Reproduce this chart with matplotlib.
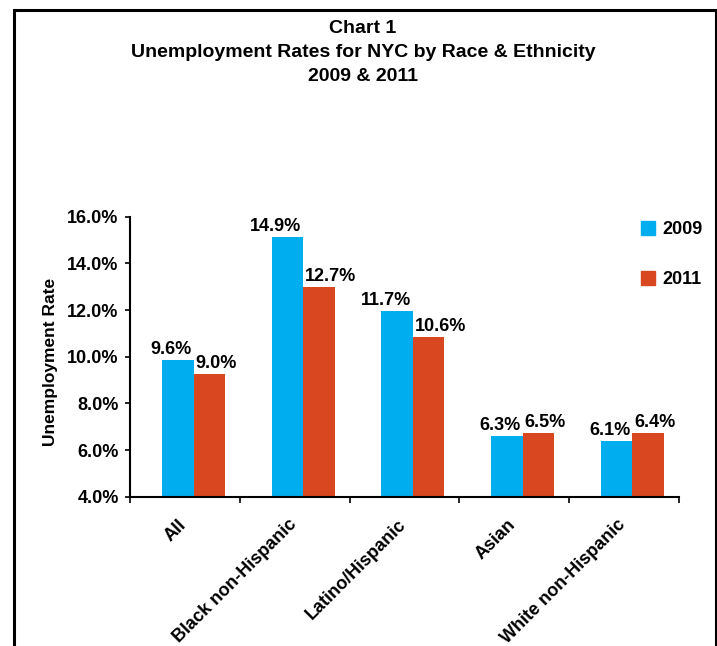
import matplotlib
matplotlib.use('Agg')
import matplotlib.pyplot as plt
from matplotlib.patches import Patch, Rectangle
from matplotlib.ticker import FuncFormatter
import numpy as np

categories = ['All', 'Black non-Hispanic', 'Latino/Hispanic', 'Asian', 'White non-Hispanic']
# bar heights as drawn in the chart
bars_2009 = [9.85, 15.15, 11.95, 6.6, 6.4]
bars_2011 = [9.25, 13.0, 10.85, 6.75, 6.75]
# printed value labels
labels_2009 = [9.6, 14.9, 11.7, 6.3, 6.1]
labels_2011 = [9.0, 12.7, 10.6, 6.5, 6.4]
series = ['2009', '2011']
yticks = [4, 6, 8, 10, 12, 14, 16]

blue = '#00ADEF'
red = '#D8471F'

plt.rcParams['font.family'] = ['Liberation Sans', 'DejaVu Sans']
plt.rcParams['font.weight'] = 'bold'

W, H = 717, 646
fig = plt.figure(figsize=(W / 100, H / 100), dpi=100)
ax = fig.add_axes([130.3 / W, 1 - 496.7 / H, 548.2 / W, 280 / H])

x = np.arange(len(categories))
off = 0.078
w = 0.287
ax.bar(x + off - w / 2, bars_2009, w, color=blue)
ax.bar(x + off + w / 2, bars_2011, w, color=red)

for i in range(len(categories)):
    ax.annotate('%.1f%%' % labels_2009[i], xy=(x[i] + off, bars_2009[i]),
                xytext=(-2, 6), textcoords='offset pixels', ha='right',
                va='baseline', fontsize=13, fontweight='bold', annotation_clip=False)
    ax.annotate('%.1f%%' % labels_2011[i], xy=(x[i] + off, bars_2011[i]),
                xytext=(2, 6), textcoords='offset pixels', ha='left',
                va='baseline', fontsize=13, fontweight='bold', annotation_clip=False)

ax.set_xlim(-0.5, len(categories) - 0.5)
ax.set_ylim(4, 16)
ax.set_yticks(yticks)
ax.yaxis.set_major_formatter(FuncFormatter(lambda v, p: '%.1f%%' % v))
# label anchors sit a bit left of centre so the rotated text ends at the centre
ax.set_xticks(x - 0.064)
ax.set_xticklabels(categories, rotation=45, ha='right', rotation_mode='anchor')
ax.set_xticks(np.arange(-0.5, len(categories), 1), minor=True)

for s in ['top', 'right']:
    ax.spines[s].set_visible(False)
for s in ['left', 'bottom']:
    ax.spines[s].set_linewidth(1.5)

ax.tick_params(axis='x', which='major', length=0, pad=14, labelsize=13)
ax.tick_params(axis='x', which='minor', length=4.3, width=1.2, direction='out')
ax.tick_params(axis='y', length=3.6, width=1.2, pad=4.8, labelsize=13)

ax.set_ylabel('Unemployment Rate', fontsize=12.5, fontweight='bold')
ax.yaxis.set_label_coords(-0.131, 0.48)

handles = [Patch(color=blue, label=series[0]), Patch(color=red, label=series[1])]
fig.legend(handles=handles, loc='upper left', bbox_to_anchor=(641 / W, 1 - 221 / H),
           frameon=False, borderpad=0, borderaxespad=0, handlelength=0.78,
           handleheight=0.78, handletextpad=0.43, labelspacing=1.82,
           prop={'weight': 'bold', 'size': 13})

cx = 363 / W
fig.text(cx, 1 - 33 / H, 'Chart 1', ha='center', va='baseline', fontsize=14, fontweight='bold')
fig.text(cx, 1 - 57 / H, 'Unemployment Rates for NYC by Race & Ethnicity', ha='center',
         va='baseline', fontsize=14, fontweight='bold')
fig.text(cx, 1 - 81 / H, '2009 & 2011', ha='center', va='baseline', fontsize=14, fontweight='bold')

fig.add_artist(Rectangle((13.5 / W, -0.05), (715.5 - 13.5) / W, 1 - 10 / H + 0.05,
                         transform=fig.transFigure, fill=False, lw=2.2, edgecolor='black'))

fig.savefig('out.png', dpi=100)
